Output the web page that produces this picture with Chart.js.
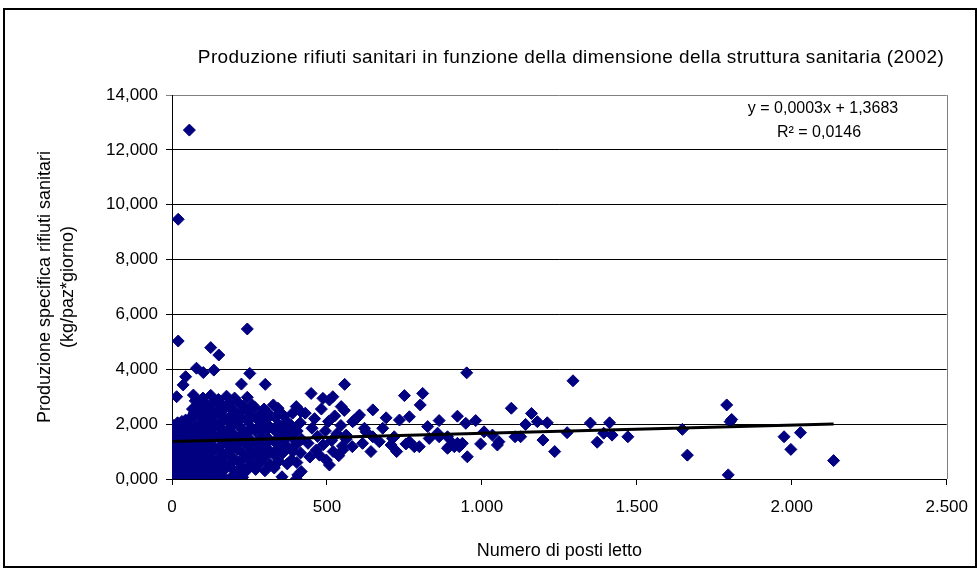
<!DOCTYPE html>
<html>
<head>
<meta charset="utf-8">
<style>
  html, body { margin: 0; padding: 0; background: #fff; }
  #wrap { width: 980px; height: 572px; }
</style>
<script src="https://cdn.jsdelivr.net/npm/chart.js@4.4.1/dist/chart.umd.min.js"></script>
</head>
<body>
<div id="wrap"><canvas id="grafico" width="980" height="572"></canvas></div>
<script>
// Posti letto e produzione specifica (kg/paz*giorno) per struttura sanitaria, 2002
const strutture = [
  // valori elevati
  [56,12.72],[20,9.47],[20,5.03],[243,5.47],[125,4.79],[151,4.52],[79,4.04],[101,3.88],[135,3.97],
  [44,3.73],[36,3.43],[224,3.46],[251,3.85],[15,3.00],[69,3.06],[301,3.45],[557,3.45],[449,3.12],
  // strutture piccole
  [2,0.10],[5,0.55],[3,1.05],[4,1.50],[6,1.95],[8,0.30],[10,0.80],[9,1.25],[11,1.75],[14,0.05],
  [15,0.60],[13,1.10],[16,1.60],[18,2.05],[20,0.35],[22,0.90],[21,1.40],[24,1.85],[26,0.12],[27,0.65],
  [28,1.15],[30,1.60],[32,2.10],[34,0.40],[35,0.95],[33,1.35],[37,1.80],[39,0.08],[40,0.70],[42,1.20],
  [41,1.65],[44,2.15],[46,0.30],[47,0.85],[48,1.45],[50,1.90],[52,0.15],[53,0.60],[55,1.05],[54,1.55],
  [57,2.20],[58,0.40],[59,1.30],
  // 60 - 260 posti letto
  [62,0.05],[64,0.45],[61,0.90],[63,1.30],[65,1.75],[60,2.20],[66,2.55],
  [74,0.25],[72,0.70],[76,1.10],[73,1.55],[77,1.95],[71,2.40],[75,2.85],
  [87,0.02],[89,0.50],[85,0.95],[88,1.35],[86,1.80],[90,2.25],[84,2.70],
  [99,0.30],[97,0.75],[101,1.20],[98,1.60],[102,2.05],[96,2.50],[100,2.95],
  [112,0.10],[114,0.55],[110,1.00],[113,1.45],[111,1.85],[115,2.30],[109,2.75],
  [124,0.35],[122,0.80],[126,1.25],[123,1.65],[127,2.10],[121,2.55],[125,3.05],
  [137,0.05],[139,0.60],[135,1.05],[138,1.50],[136,1.90],[140,2.35],[134,2.80],
  [149,0.28],[147,0.72],[151,1.15],[148,1.58],[152,2.02],[146,2.48],[150,2.90],
  [162,0.12],[164,0.52],[160,0.98],[163,1.40],[161,1.82],[165,2.28],[159,2.72],
  [175,0.40],[173,0.85],[177,1.28],[174,1.70],[178,2.15],[172,2.60],[176,3.02],
  [188,0.03],[190,0.58],[186,1.02],[189,1.46],[187,1.88],[191,2.32],[185,2.78],
  [201,0.30],[199,0.76],[203,1.20],[200,1.62],[204,2.06],[198,2.50],[202,2.95],
  [214,0.15],[216,0.62],[212,1.08],[215,1.52],[213,1.95],[217,2.40],[211,2.82],
  [228,0.06],[226,0.45],[230,0.92],[227,1.36],[231,1.78],[225,2.22],[229,2.66],
  [242,0.32],[240,0.78],[244,1.22],[241,1.66],[245,2.10],[239,2.55],[243,2.98],
  [256,0.55],[258,1.00],[254,1.42],[257,1.86],[255,2.30],[259,2.70],
  // 260 - 420 posti letto
  [270,0.35],[268,0.85],[272,1.30],[269,1.75],[273,2.20],[267,2.62],
  [285,0.60],[283,1.05],[287,1.50],[284,1.95],[288,2.40],
  [300,0.30],[298,0.80],[302,1.25],[299,1.70],[303,2.15],[297,2.55],
  [315,0.55],[317,1.00],[313,1.45],[316,1.90],[314,2.35],
  [330,0.40],[328,0.90],[332,1.35],[329,1.80],[333,2.25],[327,2.70],
  [345,0.65],[343,1.12],[347,1.55],[344,2.00],[348,2.45],[342,2.58],
  [355,0.08],[358,0.95],[360,1.40],[357,1.85],[361,2.30],
  [372,0.55],[370,1.20],[374,1.65],[371,2.10],
  [390,1.00],[386,0.70],[388,1.50],[385,1.95],[389,2.40],
  [401,0.00],[403,0.60],[400,1.25],[404,1.75],[401,2.64],
  [417,0.27],[415,0.95],[418,1.45],[414,2.05],[416,2.45],[406,0.15],
  // 420 - 560 posti letto
  [430,2.40],[439,1.30],[445,0.80],[452,1.85],[460,2.20],[465,1.05],[470,1.55],[476,0.87],[482,2.55],
  [487,2.94],[488,1.25],[495,1.75],[498,0.69],[505,2.10],[508,0.51],[508,2.88],[515,1.40],[519,3.00],
  [520,1.00],[525,2.30],[532,1.65],[538,0.85],[545,1.95],[546,2.64],[550,1.20],[551,1.06],[556,2.50],
  [562,1.45],[562,1.60],
  // strutture grandi
  [589,2.15],[582,1.18],[583,2.09],[599,2.25],[605,2.33],[615,1.30],[621,1.85],[626,1.72],[642,1.00],
  [648,2.52],[648,1.54],[669,1.36],[680,1.85],[691,2.23],[707,1.24],[712,1.48],[717,1.54],[725,1.00],
  [734,2.15],[750,3.04],[755,1.28],[766,2.27],[766,1.36],[782,1.18],[798,1.18],[801,2.70],[809,3.12],
  [825,1.91],[830,1.48],[857,1.67],[862,2.13],[862,1.54],[889,1.12],[889,1.54],[894,1.18],[905,1.30],
  [911,1.18],[921,1.30],[921,2.29],[927,1.18],[937,1.30],[948,2.03],[951,3.87],[953,0.81],[980,2.13],
  [996,1.28],[1007,1.72],[1034,1.60],[1050,1.24],[1055,1.36],[1095,2.58],[1107,1.54],[1125,1.54],
  [1141,1.99],[1160,2.39],[1179,2.09],[1197,1.42],[1211,2.05],[1235,1.00],[1275,1.69],[1294,3.58],
  [1350,2.04],[1372,1.34],[1393,1.67],[1412,2.05],[1420,1.60],[1471,1.54],[1647,1.81],[1663,0.87],
  [1790,2.70],[1801,2.09],[1806,2.17],[1795,0.15],[1975,1.54],[1997,1.08],[2028,1.69],[2135,0.67]
];

// Retta di tendenza lineare
const pendenza = 0.0003;
const intercetta = 1.3683;
const testoEquazione = 'y = 0,0003x + 1,3683';
const testoR2 = 'R\u00B2 = 0,0146';

const etichetteX = ['0', '500', '1.000', '1.500', '2.000', '2.500'];
const etichetteY = ['0,000', '2,000', '4,000', '6,000', '8,000', '10,000', '12,000', '14,000'];

const titolo = 'Produzione rifiuti sanitari in funzione della dimensione della struttura sanitaria (2002)';
const titoloY = ['Produzione specifica rifiuti sanitari', '(kg/paz*giorno)'];
const titoloX = 'Numero di posti letto';

const puntiDispersione = strutture.map(([x, y]) => ({ x, y }));
const xs = strutture.map(p => p[0]);
const xMin = Math.min(...xs), xMax = Math.max(...xs);
const puntiTendenza = [
  { x: xMin, y: intercetta + pendenza * xMin },
  { x: xMax, y: intercetta + pendenza * xMax }
];

const FONT = '"Liberation Sans", Arial, sans-serif';

const decorazioni = {
  id: 'decorazioni',
  beforeDraw(chart) {
    const c = chart.ctx;
    c.save();
    c.fillStyle = '#fff';
    c.fillRect(0, 0, chart.width, chart.height);
    c.restore();
  },
  afterDatasetsDraw(chart) {
    const c = chart.ctx;
    const a = chart.chartArea;
    c.save();
    // bordo destro dell'area del tracciato
    c.strokeStyle = '#808080';
    c.lineWidth = 1;
    c.beginPath();
    c.moveTo(Math.round(a.right) + 0.5, a.top);
    c.lineTo(Math.round(a.right) + 0.5, a.bottom);
    c.stroke();
    c.restore();
  },
  afterDraw(chart) {
    const c = chart.ctx;
    const a = chart.chartArea;
    c.save();
    c.fillStyle = '#000';
    c.textAlign = 'center';
    c.textBaseline = 'middle';

    // titolo
    c.font = '19px ' + FONT;
    c.letterSpacing = '0.4px';
    c.fillText(titolo, 571, 58);
    c.letterSpacing = '0px';

    // equazione della retta
    c.font = '16px ' + FONT;
    c.fillText(testoEquazione, 823, 109);
    c.fillText(testoR2, 819, 133);

    // titolo asse X
    c.font = '18px ' + FONT;
    c.fillText(titoloX, (a.left + a.right) / 2, 551);

    // titolo asse Y su due righe
    const cy = (a.top + a.bottom) / 2;
    c.save();
    c.translate(45, cy);
    c.rotate(-Math.PI / 2);
    c.fillText(titoloY[0], 0, 0);
    c.restore();
    c.save();
    c.translate(68, cy);
    c.rotate(-Math.PI / 2);
    c.fillText(titoloY[1], 0, 0);
    c.restore();

    // cornice del grafico
    c.strokeStyle = '#000';
    c.lineWidth = 2;
    c.strokeRect(4, 9, 972, 558);
    c.restore();
  }
};

new Chart(document.getElementById('grafico'), {
  type: 'scatter',
  data: {
    datasets: [
      {
        type: 'line',
        label: 'Lineare',
        data: puntiTendenza,
        borderColor: '#000',
        borderWidth: 3,
        pointRadius: 0,
        fill: false,
        order: 0
      },
      {
        label: 'Strutture sanitarie',
        data: puntiDispersione,
        pointStyle: 'rectRot',
        pointRadius: 6,
        backgroundColor: '#000080',
        borderColor: '#000080',
        borderWidth: 1,
        order: 1
      }
    ]
  },
  options: {
    responsive: false,
    animation: false,
    events: [],
    layout: { padding: { top: 95, left: 0, right: 31, bottom: 0 } },
    plugins: {
      legend: { display: false },
      tooltip: { enabled: false },
      title: { display: false }
    },
    scales: {
      x: {
        type: 'linear',
        min: 0,
        max: 2500,
        afterFit(s) { s.height = 93; },
        afterBuildTicks(s) { s.ticks = etichetteX.map((_, i) => ({ value: i * 500 })); },
        ticks: {
          callback: (v, i) => etichetteX[i],
          color: '#000',
          font: { family: FONT, size: 17 },
          padding: 12,
          maxRotation: 0,
          autoSkip: false
        },
        grid: {
          drawOnChartArea: false,
          drawTicks: true,
          tickLength: 6,
          color: '#000'
        },
        border: { display: true, color: '#000', width: 1 }
      },
      y: {
        type: 'linear',
        min: 0,
        max: 14,
        afterFit(s) { s.width = 172; },
        afterBuildTicks(s) { s.ticks = etichetteY.map((_, i) => ({ value: i * 2 })); },
        ticks: {
          callback: (v, i) => etichetteY[i],
          color: '#000',
          font: { family: FONT, size: 17 },
          padding: 8,
          autoSkip: false
        },
        grid: {
          drawTicks: true,
          tickLength: 6,
          color: ctx => (ctx.tick && ctx.tick.value === 14 ? '#808080' : '#000'),
          lineWidth: 1
        },
        border: { display: true, color: '#000', width: 1 }
      }
    }
  },
  plugins: [decorazioni]
});
</script>
</body>
</html>
